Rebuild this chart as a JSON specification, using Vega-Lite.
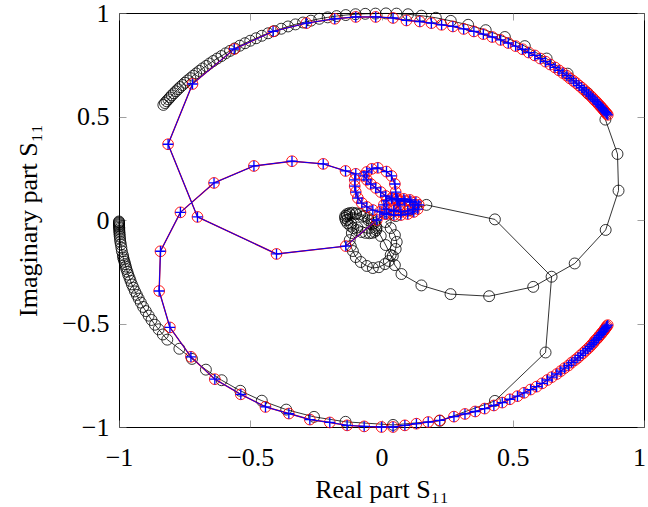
{
"$schema":"https://vega.github.io/schema/vega-lite/v6.json",
"width":525,"height":414,
"autosize":"none",
"padding":{"left":119,"top":13,"right":4,"bottom":80},
"background":"white",
"config":{"view":{"stroke":"black","strokeWidth":1},"axis":{"grid":false,"domain":false}},
"datasets":{
"blk":[
{"x":-0.831,"y":0.556},{"x":-0.825,"y":0.565},{"x":-0.819,"y":0.574},{"x":-0.812,"y":0.583},{"x":-0.806,"y":0.592},{"x":-0.799,"y":0.602},{"x":-0.791,"y":0.612},{"x":-0.783,"y":0.622},{"x":-0.775,"y":0.632},{"x":-0.767,"y":0.642},{"x":-0.758,"y":0.652},{"x":-0.749,"y":0.663},{"x":-0.739,"y":0.674},{"x":-0.728,"y":0.685},{"x":-0.717,"y":0.697},{"x":-0.706,"y":0.708},{"x":-0.694,"y":0.720},{"x":-0.682,"y":0.732},{"x":-0.668,"y":0.744},{"x":-0.655,"y":0.756},{"x":-0.641,"y":0.768},{"x":-0.626,"y":0.780},{"x":-0.610,"y":0.792},{"x":-0.594,"y":0.805},{"x":-0.577,"y":0.817},{"x":-0.559,"y":0.829},{"x":-0.540,"y":0.842},{"x":-0.520,"y":0.854},{"x":-0.500,"y":0.866},{"x":-0.478,"y":0.878},{"x":-0.456,"y":0.890},{"x":-0.432,"y":0.902},{"x":-0.408,"y":0.913},{"x":-0.382,"y":0.924},{"x":-0.356,"y":0.935},{"x":-0.328,"y":0.945},{"x":-0.299,"y":0.954},{"x":-0.269,"y":0.963},{"x":-0.237,"y":0.972},{"x":-0.205,"y":0.979},{"x":-0.171,"y":0.985},{"x":-0.136,"y":0.990},{"x":-0.099,"y":0.994},{"x":-0.062,"y":0.996},{"x":-0.023,"y":0.997},{"x":0.017,"y":0.998},
{"x":0.057,"y":0.997},{"x":0.101,"y":0.994},{"x":0.152,"y":0.987},{"x":0.207,"y":0.977},{"x":0.264,"y":0.962},{"x":0.330,"y":0.943},{"x":0.397,"y":0.917},{"x":0.470,"y":0.884},{"x":0.546,"y":0.840},{"x":0.629,"y":0.780},{"x":0.709,"y":0.707},{"x":0.786,"y":0.612},{"x":0.853,"y":0.485},
{"x":0.899,"y":0.319},{"x":0.903,"y":0.142},{"x":0.854,"y":-0.048},{"x":0.736,"y":-0.210},{"x":0.578,"y":-0.323},{"x":0.410,"y":-0.368},{"x":0.263,"y":-0.358},{"x":0.152,"y":-0.316},{"x":0.076,"y":-0.261},
{"x":0.051,"y":-0.218},{"x":0.035,"y":-0.169},{"x":0.016,"y":-0.121},{"x":-0.003,"y":-0.077},
{"x":-0.019,"y":-0.039},{"x":-0.022,"y":-0.027},{"x":-0.028,"y":-0.015},{"x":-0.038,"y":-0.001},{"x":-0.051,"y":0.010},{"x":-0.066,"y":0.020},{"x":-0.082,"y":0.029},{"x":-0.097,"y":0.033},{"x":-0.111,"y":0.035},{"x":-0.123,"y":0.033},{"x":-0.132,"y":0.028},{"x":-0.138,"y":0.020},{"x":-0.139,"y":0.010},{"x":-0.136,"y":-0.002},{"x":-0.130,"y":-0.015},{"x":-0.119,"y":-0.028},{"x":-0.107,"y":-0.039},{"x":-0.092,"y":-0.049},{"x":-0.076,"y":-0.058},{"x":-0.061,"y":-0.062},{"x":-0.046,"y":-0.064},{"x":-0.035,"y":-0.062},{"x":-0.026,"y":-0.057},{"x":-0.020,"y":-0.049},
{"x":-0.036,"y":-0.021},{"x":-0.050,"y":-0.001},{"x":-0.073,"y":0.016},{"x":-0.098,"y":0.028},{"x":-0.120,"y":0.028},{"x":-0.131,"y":0.019},{"x":-0.129,"y":0.002},{"x":-0.115,"y":-0.018},{"x":-0.092,"y":-0.036},
{"x":-0.113,"y":-0.063},{"x":-0.121,"y":-0.097},{"x":-0.117,"y":-0.126},{"x":-0.109,"y":-0.150},{"x":-0.098,"y":-0.179},{"x":-0.079,"y":-0.203},{"x":-0.056,"y":-0.222},{"x":-0.033,"y":-0.232},{"x":-0.010,"y":-0.228},{"x":0.013,"y":-0.213},{"x":0.028,"y":-0.198},{"x":0.043,"y":-0.174},{"x":0.054,"y":-0.140},{"x":0.058,"y":-0.106},{"x":0.051,"y":-0.073},{"x":0.035,"y":-0.039},{"x":0.016,"y":-0.010},{"x":0.054,"y":0.019},{"x":0.108,"y":0.048},{"x":0.171,"y":0.073},
{"x":0.432,"y":0.003},{"x":0.648,"y":-0.274},{"x":0.625,"y":-0.640},{"x":0.432,"y":-0.874},{"x":0.222,"y":-0.970},{"x":0.044,"y":-0.990},
{"x":-0.137,"y":-0.975},{"x":-0.257,"y":-0.951},{"x":-0.363,"y":-0.916},{"x":-0.456,"y":-0.873},{"x":-0.538,"y":-0.825},{"x":-0.609,"y":-0.774},{"x":-0.669,"y":-0.723},{"x":-0.722,"y":-0.671},{"x":-0.770,"y":-0.622},{"x":-0.816,"y":-0.578},{"x":-0.833,"y":-0.553},{"x":-0.849,"y":-0.528},{"x":-0.863,"y":-0.506},{"x":-0.876,"y":-0.483},{"x":-0.887,"y":-0.462},{"x":-0.898,"y":-0.440},{"x":-0.908,"y":-0.420},{"x":-0.917,"y":-0.399},{"x":-0.925,"y":-0.380},{"x":-0.932,"y":-0.362},{"x":-0.939,"y":-0.345},{"x":-0.945,"y":-0.327},{"x":-0.951,"y":-0.311},{"x":-0.956,"y":-0.294},{"x":-0.960,"y":-0.279},{"x":-0.965,"y":-0.264},{"x":-0.968,"y":-0.250},{"x":-0.972,"y":-0.237},{"x":-0.974,"y":-0.225},{"x":-0.977,"y":-0.213},{"x":-0.979,"y":-0.202},{"x":-0.982,"y":-0.191},{"x":-0.984,"y":-0.181},{"x":-0.985,"y":-0.170},{"x":-0.989,"y":-0.151},{"x":-0.991,"y":-0.134},{"x":-0.993,"y":-0.118},{"x":-0.995,"y":-0.105},{"x":-0.996,"y":-0.092},{"x":-0.997,"y":-0.080},{"x":-0.998,"y":-0.070},{"x":-0.998,"y":-0.061},{"x":-0.999,"y":-0.052},{"x":-0.999,"y":-0.044},{"x":-0.999,"y":-0.037},{"x":-1.0,"y":-0.031},{"x":-1.0,"y":-0.025},{"x":-1.0,"y":-0.020},{"x":-1.0,"y":-0.015},{"x":-1.0,"y":-0.011},{"x":-1.0,"y":-0.007}
],
"rb":[
{"x":0.862,"y":0.508},{"x":0.858,"y":0.513},{"x":0.855,"y":0.518},{"x":0.851,"y":0.524},{"x":0.847,"y":0.530},{"x":0.843,"y":0.537},{"x":0.838,"y":0.543},{"x":0.834,"y":0.550},{"x":0.828,"y":0.557},{"x":0.823,"y":0.565},{"x":0.817,"y":0.573},{"x":0.810,"y":0.581},{"x":0.804,"y":0.590},{"x":0.797,"y":0.599},{"x":0.789,"y":0.608},{"x":0.781,"y":0.618},{"x":0.772,"y":0.628},{"x":0.763,"y":0.639},{"x":0.753,"y":0.649},{"x":0.742,"y":0.661},{"x":0.731,"y":0.672},{"x":0.718,"y":0.684},{"x":0.706,"y":0.697},{"x":0.691,"y":0.710},{"x":0.676,"y":0.723},{"x":0.661,"y":0.737},{"x":0.643,"y":0.751},{"x":0.625,"y":0.765},{"x":0.605,"y":0.780},{"x":0.584,"y":0.795},{"x":0.561,"y":0.809},{"x":0.537,"y":0.825},{"x":0.511,"y":0.840},{"x":0.483,"y":0.855},{"x":0.454,"y":0.870},{"x":0.422,"y":0.884},{"x":0.388,"y":0.898},{"x":0.352,"y":0.911},{"x":0.313,"y":0.923},{"x":0.272,"y":0.935},
{"x":0.229,"y":0.943},{"x":0.190,"y":0.951},{"x":0.146,"y":0.959},{"x":0.095,"y":0.964},{"x":0.044,"y":0.976},{"x":-0.022,"y":0.981},{"x":-0.098,"y":0.981},{"x":-0.178,"y":0.972},{"x":-0.286,"y":0.951},{"x":-0.413,"y":0.911},{"x":-0.561,"y":0.826},{"x":-0.720,"y":0.657},{"x":-0.813,"y":0.366},{"x":-0.701,"y":0.015},{"x":-0.400,"y":-0.164},{"x":-0.136,"y":-0.126},
{"x":-0.018,"y":0.000},{"x":0.013,"y":0.029},{"x":0.047,"y":0.048},{"x":0.070,"y":0.073},{"x":0.058,"y":0.102},{"x":0.054,"y":0.135},{"x":0.051,"y":0.174},{"x":0.038,"y":0.213},{"x":0.019,"y":0.234},{"x":-0.014,"y":0.252},{"x":-0.037,"y":0.247},{"x":-0.056,"y":0.232},{"x":-0.067,"y":0.213},{"x":-0.056,"y":0.194},{"x":-0.041,"y":0.174},{"x":-0.022,"y":0.155},{"x":-0.003,"y":0.135},{"x":0.016,"y":0.116},{"x":0.039,"y":0.106},{"x":0.062,"y":0.092},{"x":0.089,"y":0.092},{"x":0.112,"y":0.087},{"x":0.127,"y":0.073},{"x":0.119,"y":0.053},{"x":0.100,"y":0.044},{"x":0.074,"y":0.039},{"x":0.047,"y":0.044},{"x":0.020,"y":0.053},{"x":0.009,"y":0.073},{"x":0.020,"y":0.092},{"x":0.039,"y":0.102},{"x":0.062,"y":0.102},{"x":0.085,"y":0.102},{"x":0.108,"y":0.097},{"x":0.131,"y":0.087},{"x":0.142,"y":0.073},{"x":0.138,"y":0.053},{"x":0.123,"y":0.039},{"x":0.100,"y":0.029},{"x":0.074,"y":0.024},{"x":0.047,"y":0.024},{"x":0.020,"y":0.029},{"x":-0.006,"y":0.039},{"x":-0.033,"y":0.048},{"x":-0.056,"y":0.063},{"x":-0.075,"y":0.082},{"x":-0.090,"y":0.106},{"x":-0.098,"y":0.135},{"x":-0.102,"y":0.164},{"x":-0.102,"y":0.194},{"x":-0.098,"y":0.223},
{"x":-0.137,"y":0.237},{"x":-0.222,"y":0.271},{"x":-0.341,"y":0.284},{"x":-0.486,"y":0.261},{"x":-0.638,"y":0.179},{"x":-0.766,"y":0.037},{"x":-0.842,"y":-0.151},{"x":-0.847,"y":-0.343},{"x":-0.806,"y":-0.519},{"x":-0.726,"y":-0.661},{"x":-0.635,"y":-0.769},{"x":-0.536,"y":-0.842},{"x":-0.442,"y":-0.903},{"x":-0.353,"y":-0.935},{"x":-0.273,"y":-0.964},{"x":-0.197,"y":-0.978},{"x":-0.131,"y":-0.992},{"x":-0.066,"y":-0.997},{"x":0.000,"y":-1.000},{"x":0.044,"y":-1.000},{"x":0.089,"y":-0.992},{"x":0.133,"y":-0.984},{"x":0.178,"y":-0.976},{"x":0.222,"y":-0.968},
{"x":0.276,"y":-0.950},{"x":0.318,"y":-0.937},{"x":0.357,"y":-0.925},{"x":0.393,"y":-0.911},{"x":0.428,"y":-0.896},{"x":0.460,"y":-0.882},{"x":0.489,"y":-0.866},{"x":0.518,"y":-0.851},{"x":0.543,"y":-0.835},{"x":0.568,"y":-0.819},{"x":0.591,"y":-0.805},{"x":0.612,"y":-0.789},{"x":0.632,"y":-0.773},{"x":0.649,"y":-0.759},{"x":0.668,"y":-0.744},{"x":0.683,"y":-0.730},{"x":0.697,"y":-0.716},{"x":0.712,"y":-0.703},{"x":0.724,"y":-0.689},{"x":0.737,"y":-0.677},{"x":0.748,"y":-0.666},{"x":0.758,"y":-0.654},{"x":0.768,"y":-0.643},{"x":0.777,"y":-0.632},{"x":0.786,"y":-0.622},{"x":0.794,"y":-0.612},{"x":0.801,"y":-0.602},{"x":0.808,"y":-0.593},{"x":0.813,"y":-0.583},{"x":0.820,"y":-0.575},{"x":0.826,"y":-0.567},{"x":0.830,"y":-0.559},{"x":0.836,"y":-0.552},{"x":0.840,"y":-0.544},{"x":0.845,"y":-0.538},{"x":0.849,"y":-0.531},{"x":0.852,"y":-0.525},{"x":0.856,"y":-0.519},{"x":0.858,"y":-0.513},{"x":0.862,"y":-0.508}
]},
"layer":[
{"data":{"name":"blk"},"mark":{"type":"line","color":"black","strokeWidth":0.8},
 "encoding":{
  "x":{"field":"x","type":"quantitative","scale":{"domain":[-1,1],"nice":false,"zero":false},
   "axis":{"orient":"bottom","values":[-1,-0.5,0,0.5,1],"format":"~g","tickSize":-7,"tickColor":"#777","tickWidth":0.7,"labelFont":"Liberation Serif","labelFontSize":26,"labelColor":"black","labelPadding":24,"labelFlush":false,"labelOverlap":false,"labelOffset":{"condition":{"test":"datum.value == 1","value":-5},"value":0},"title":"Real part S₁₁","titleFont":"Liberation Serif","titleFontSize":26,"titleFontWeight":"normal","titleColor":"black","titlePadding":6}},
  "y":{"field":"y","type":"quantitative","scale":{"domain":[-1,1],"nice":false,"zero":false},
   "axis":{"orient":"left","values":[-1,-0.5,0,0.5,1],"format":"~g","tickSize":-7,"tickColor":"#777","tickWidth":0.7,"labelFont":"Liberation Serif","labelFontSize":26,"labelColor":"black","labelPadding":17,"labelFlush":false,"labelOverlap":false,"title":"Imaginary part S₁₁","titleFont":"Liberation Serif","titleFontSize":26,"titleFontWeight":"normal","titleColor":"black","titlePadding":20}},
  "order":{"value":null}}},
{"data":{"name":"blk"},"mark":{"type":"point","shape":"circle","filled":false,"stroke":"black","strokeWidth":0.8,"size":120,"opacity":1},
 "encoding":{
  "x":{"field":"x","type":"quantitative","axis":{"orient":"top","values":[-1,-0.5,0,0.5,1],"labels":false,"title":null,"tickSize":-7,"tickColor":"#777","tickWidth":0.7}},
  "y":{"field":"y","type":"quantitative","axis":{"orient":"right","values":[-1,-0.5,0,0.5,1],"labels":false,"title":null,"tickSize":-7,"tickColor":"#777","tickWidth":0.7}}}},
{"data":{"name":"rb"},"mark":{"type":"line","color":"#ff0000","strokeWidth":1.4},
 "encoding":{"x":{"field":"x","type":"quantitative","axis":null},"y":{"field":"y","type":"quantitative","axis":null},"order":{"value":null}}},
{"data":{"name":"rb"},"mark":{"type":"point","shape":"circle","filled":false,"stroke":"#ff0000","strokeWidth":0.9,"size":115,"opacity":1},
 "encoding":{"x":{"field":"x","type":"quantitative","axis":null},"y":{"field":"y","type":"quantitative","axis":null}}},
{"data":{"name":"rb"},"mark":{"type":"line","color":"#0000ff","strokeWidth":1},
 "encoding":{"x":{"field":"x","type":"quantitative","axis":null},"y":{"field":"y","type":"quantitative","axis":null},"order":{"value":null}}},
{"data":{"name":"rb"},"mark":{"type":"point","shape":"M-1,0L1,0M0,-1L0,1","filled":false,"stroke":"#0000ff","strokeWidth":1.3,"size":110,"opacity":1},
 "encoding":{"x":{"field":"x","type":"quantitative","axis":null},"y":{"field":"y","type":"quantitative","axis":null}}}
],
"resolve":{"axis":{"x":"independent","y":"independent"}}
}
